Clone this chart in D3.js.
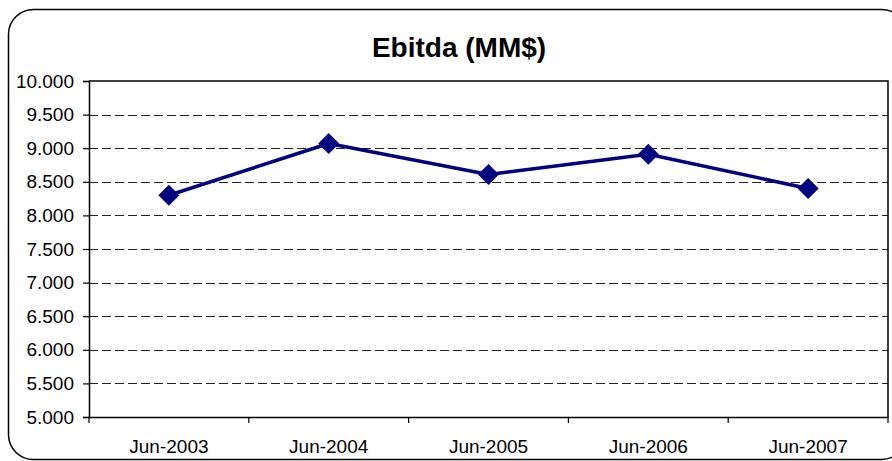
<!DOCTYPE html>
<html>
<head>
<meta charset="utf-8">
<script src="https://cdn.jsdelivr.net/npm/d3@7"></script>
<style>
  html, body { margin: 0; padding: 0; background: #fff; }
  svg { display: block; }
  text { font-family: Arial, "Liberation Sans", sans-serif; fill: #000; }
</style>
</head>
<body>
<svg id="chart" width="892" height="461"></svg>
<script>
const categories = ["Jun-2003", "Jun-2004", "Jun-2005", "Jun-2006", "Jun-2007"];
const ebitda = [8300, 9070, 8610, 8910, 8400];
const yTicks = [5000, 5500, 6000, 6500, 7000, 7500, 8000, 8500, 9000, 9500, 10000];
const title = "Ebitda (MM$)";

const fmt = v => d3.format(",.3f")(v / 1000).replace(",", "");

const svg = d3.select("#chart");
const plot = { left: 89, right: 888, top: 81, bottom: 417 };

// outer rounded border
svg.append("rect")
  .attr("x", 8.5).attr("y", 9.5)
  .attr("width", 898).attr("height", 450)
  .attr("rx", 25).attr("ry", 25)
  .attr("fill", "#fff").attr("stroke", "#000").attr("stroke-width", 1.5);

// title
svg.append("text")
  .attr("x", 459).attr("y", 57)
  .attr("text-anchor", "middle")
  .style("font-size", "28px").style("font-weight", "bold")
  .text(title);

const x = d3.scaleBand().domain(categories).range([plot.left, plot.right]).padding(0);
const y = d3.scaleLinear().domain([5000, 10000]).range([plot.bottom, plot.top]);

// gridlines
svg.append("g").selectAll("line")
  .data(yTicks.filter(t => t > 5000 && t < 10000))
  .join("line")
  .attr("x1", plot.left).attr("x2", plot.right)
  .attr("y1", d => Math.round(y(d)) + 0.5).attr("y2", d => Math.round(y(d)) + 0.5)
  .attr("stroke", "#222").attr("stroke-width", 1)
  .attr("stroke-dasharray", "9,4");

// plot frame (top and right)
svg.append("path")
  .attr("d", `M${plot.left},${plot.top}H${plot.right}V${plot.bottom}`)
  .attr("fill", "none").attr("stroke", "#000").attr("stroke-width", 1.5);

// y axis
const yAxis = svg.append("g")
  .attr("transform", `translate(${plot.left},0)`)
  .call(d3.axisLeft(y).tickValues(yTicks).tickFormat(fmt).tickSize(6).tickPadding(9));
yAxis.select(".domain").attr("stroke-width", 1.5);
yAxis.selectAll("line").attr("stroke-width", 1.2);
yAxis.selectAll("text").style("font-size", "19px").attr("font-family", null);

// x axis: ticks between categories
const xAxis = svg.append("g")
  .attr("transform", `translate(0,${plot.bottom})`)
  .call(d3.axisBottom(x).tickSize(0).tickPadding(0));
xAxis.select(".domain").attr("stroke-width", 1.5);
xAxis.selectAll("text").style("font-size", "19px").attr("font-family", null).attr("dy", "36px");
const bounds = categories.map(c => x(c)).concat([x(categories[categories.length - 1]) + x.bandwidth()]);
xAxis.selectAll(".sep").data(bounds).join("line")
  .attr("class", "sep")
  .attr("x1", d => d).attr("x2", d => d)
  .attr("y1", 0).attr("y2", 6)
  .attr("stroke", "#000").attr("stroke-width", 1.2);

// line
const cx = d => x(d) + x.bandwidth() / 2;
const data = categories.map((c, i) => ({ c, v: ebitda[i] }));
svg.append("path")
  .datum(data)
  .attr("d", d3.line().x(d => cx(d.c)).y(d => y(d.v)))
  .attr("fill", "none").attr("stroke", "#000080").attr("stroke-width", 3.5)
  .attr("stroke-linejoin", "round");

// diamond markers
svg.append("g").selectAll("path")
  .data(data)
  .join("path")
  .attr("transform", d => `translate(${cx(d.c)},${y(d.v)})`)
  .attr("d", "M0,-10.5L10.5,0L0,10.5L-10.5,0Z")
  .attr("fill", "#000080");
</script>
</body>
</html>
